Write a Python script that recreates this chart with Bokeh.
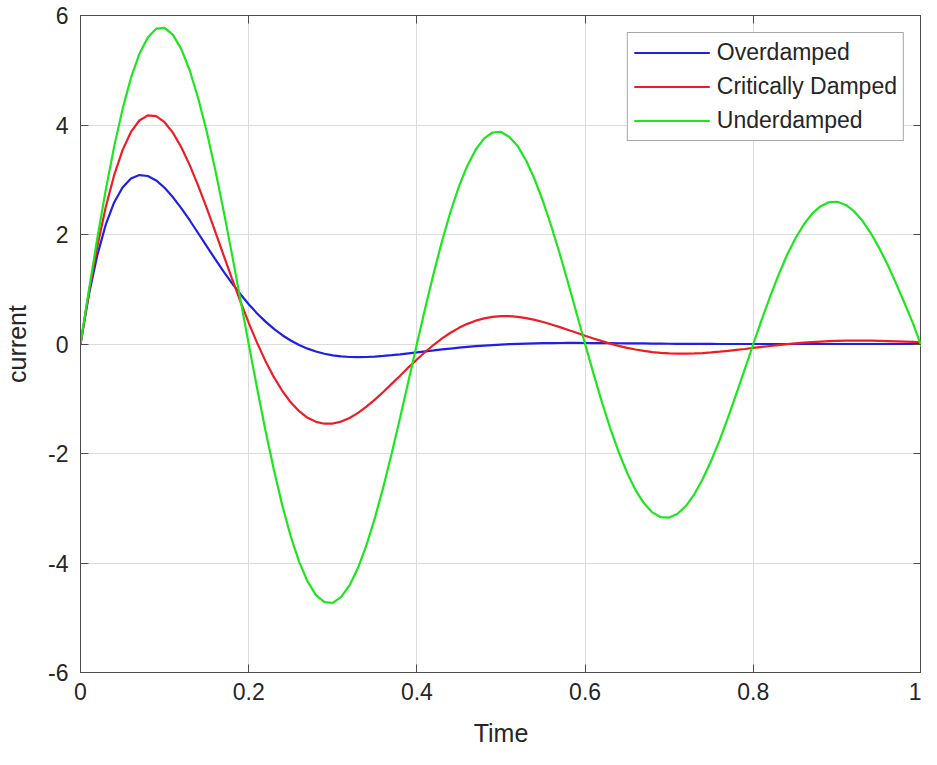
from bokeh.plotting import figure
from bokeh.models import LinearAxis, Range1d, FixedTicker, Legend, LegendItem, CustomJSTickFormatter
from bokeh.embed import file_html
from bokeh.resources import INLINE

time = [round(0.01 * k, 2) for k in range(101)]

overdamped = [
    0.000, 0.904, 1.624, 2.179, 2.585, 2.859, 3.021, 3.085, 3.069, 2.988,
    2.853, 2.679, 2.477, 2.256, 2.023, 1.787, 1.554, 1.328, 1.113, 0.913,
    0.727, 0.558, 0.408, 0.275, 0.160, 0.063, -0.019, -0.085, -0.138, -0.178,
    -0.208, -0.226, -0.237, -0.240, -0.237, -0.230, -0.218, -0.204, -0.188, -0.170,
    -0.153, -0.134, -0.117, -0.099, -0.083, -0.067, -0.053, -0.040, -0.029, -0.019,
    -0.010, -0.003, 0.003, 0.008, 0.012, 0.015, 0.017, 0.018, 0.019, 0.019,
    0.018, 0.017, 0.016, 0.015, 0.014, 0.013, 0.011, 0.010, 0.008, 0.007,
    0.005, 0.004, 0.003, 0.002, 0.001, 0.001, 0.000, 0.000, 0.000, 0.000,
    0.000, 0.000, 0.000, 0.000, 0.000, 0.000, 0.000, 0.000, 0.000, 0.000,
    0.000, 0.000, 0.000, 0.000, 0.000, 0.000, 0.000, 0.000, 0.000, 0.000,
    0.000]

critically = [
    0.000, 0.947, 1.782, 2.496, 3.083, 3.541, 3.873, 4.082, 4.175, 4.161,
    4.051, 3.856, 3.589, 3.263, 2.889, 2.487, 2.062, 1.628, 1.199, 0.784,
    0.387, 0.020, -0.313, -0.606, -0.859, -1.066, -1.228, -1.348, -1.422, -1.456,
    -1.453, -1.417, -1.351, -1.258, -1.145, -1.017, -0.876, -0.728, -0.580, -0.426,
    -0.283, -0.142, -0.014, 0.103, 0.206, 0.295, 0.368, 0.426, 0.468, 0.495,
    0.508, 0.508, 0.496, 0.473, 0.441, 0.402, 0.357, 0.308, 0.257, 0.204,
    0.152, 0.101, 0.052, 0.007, -0.034, -0.070, -0.101, -0.127, -0.148, -0.163,
    -0.172, -0.177, -0.177, -0.173, -0.165, -0.154, -0.141, -0.126, -0.108, -0.091,
    -0.072, -0.054, -0.036, -0.019, -0.003, 0.011, 0.024, 0.035, 0.044, 0.051,
    0.056, 0.060, 0.062, 0.062, 0.061, 0.058, 0.054, 0.049, 0.044, 0.038,
    0.032]

underdamped = [
    0.000, 0.988, 1.932, 2.810, 3.605, 4.290, 4.862, 5.298, 5.600, 5.760,
    5.774, 5.646, 5.382, 4.991, 4.485, 3.884, 3.196, 2.445, 1.646, 0.825,
    0.000, -0.809, -1.583, -2.303, -2.952, -3.514, -3.979, -4.337, -4.587, -4.714,
    -4.728, -4.619, -4.405, -4.087, -3.675, -3.180, -2.618, -2.001, -1.348, -0.676,
    0.000, 0.663, 1.295, 1.886, 2.416, 2.878, 3.257, 3.553, 3.756, 3.863,
    3.873, 3.781, 3.610, 3.348, 3.009, 2.603, 2.142, 1.639, 1.104, 0.553,
    0.000, -0.542, -1.061, -1.544, -1.977, -2.355, -2.668, -2.910, -3.076, -3.163,
    -3.171, -3.100, -2.955, -2.740, -2.462, -2.129, -1.756, -1.341, -0.903, -0.453,
    0.000, 0.444, 0.867, 1.263, 1.621, 1.926, 2.183, 2.382, 2.518, 2.590,
    2.597, 2.540, 2.421, 2.245, 2.018, 1.746, 1.437, 1.098, 0.739, 0.371,
    -0.050]

series_names = ["Overdamped", "Critically Damped", "Underdamped"]
series_colors = ["#1f1fe6", "#ee1c25", "#1ee61e"]

x_ticks = [0, 0.2, 0.4, 0.6, 0.8, 1]
x_tick_labels = {0: "0", 0.2: "0.2", 0.4: "0.4", 0.6: "0.6", 0.8: "0.8", 1: "1"}
y_ticks = [-6, -4, -2, 0, 2, 4, 6]
y_tick_labels = {-6: "-6", -4: "-4", -2: "-2", 0: "0", 2: "2", 4: "4", 6: "6"}

FONT = "Liberation Sans"
TXT = "#262626"
AX = "#4d4d4d"

p = figure(width=921, height=749, output_backend="svg", toolbar_location=None,
           x_range=Range1d(0, 1), y_range=Range1d(-6, 6),
           x_axis_label="Time", y_axis_label="current",
           min_border_left=75, min_border_right=0, min_border_top=15, min_border_bottom=10)
p.background_fill_color = "white"
p.border_fill_color = "white"
p.outline_line_color = AX
p.outline_line_width = 1

renderers = []
for ys, c in zip([overdamped, critically, underdamped], series_colors):
    r = p.line(time, ys, line_color=c, line_width=2.2)
    renderers.append(r)

for ax in (p.xaxis[0], p.yaxis[0]):
    ax.axis_line_color = AX
    ax.major_tick_line_color = AX
    ax.major_tick_in = 8
    ax.major_tick_out = 0
    ax.minor_tick_line_color = None
    ax.major_label_text_font = FONT
    ax.major_label_text_font_size = "23px"
    ax.major_label_text_color = TXT
    ax.axis_label_text_font = FONT
    ax.axis_label_text_font_size = "25px"
    ax.axis_label_text_font_style = "normal"
    ax.axis_label_text_color = TXT

p.xaxis[0].ticker = FixedTicker(ticks=x_ticks)
p.xaxis[0].major_label_overrides = x_tick_labels
p.xaxis[0].major_label_standoff = 10
p.xaxis[0].axis_label_standoff = 16
p.yaxis[0].ticker = FixedTicker(ticks=y_ticks)
p.yaxis[0].major_label_overrides = y_tick_labels
p.yaxis[0].major_label_standoff = 12
p.yaxis[0].axis_label_standoff = 14

# box ticks on top and right (no labels)
blank = CustomJSTickFormatter(code="return ''")
top = LinearAxis(ticker=FixedTicker(ticks=x_ticks), formatter=blank)
right = LinearAxis(ticker=FixedTicker(ticks=y_ticks), formatter=blank)
for ax in (top, right):
    ax.axis_line_color = AX
    ax.major_tick_line_color = AX
    ax.major_tick_in = 8
    ax.major_tick_out = 0
    ax.minor_tick_line_color = None
    ax.major_label_standoff = 0
    ax.major_label_text_font_size = "0px"
p.add_layout(top, "above")
p.add_layout(right, "right")

p.xgrid.ticker = FixedTicker(ticks=x_ticks)
p.ygrid.ticker = FixedTicker(ticks=y_ticks)
for g in (p.xgrid[0], p.ygrid[0]):
    g.grid_line_color = "#dcdcdc"
    g.grid_line_width = 1

legend = Legend(items=[LegendItem(label=n, renderers=[r]) for n, r in zip(series_names, renderers)],
                location="top_right")
legend.label_text_font = FONT
legend.label_text_font_size = "23px"
legend.label_text_color = TXT
legend.glyph_width = 76
legend.glyph_height = 25
legend.label_height = 25
legend.label_standoff = 7
legend.spacing = 7
legend.padding = 6
legend.margin = 17
legend.border_line_color = AX
legend.border_line_width = 1
legend.background_fill_color = "white"
legend.background_fill_alpha = 1
p.add_layout(legend, "center")

open("out.html", "w").write(file_html(p, INLINE))
